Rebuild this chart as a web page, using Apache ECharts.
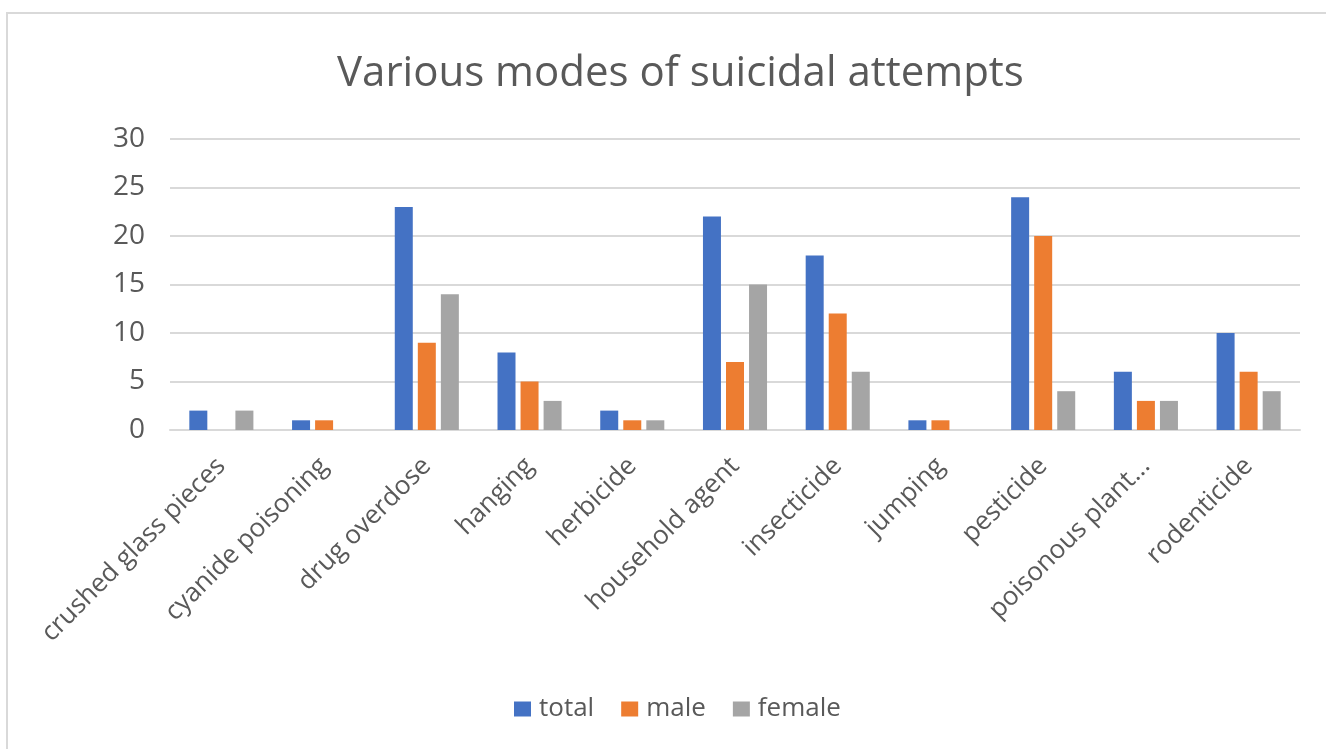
<!DOCTYPE html>
<html>
<head>
<meta charset="utf-8">
<script src="https://cdn.jsdelivr.net/npm/echarts@6/dist/echarts.min.js"></script>
<style>
  html, body { margin: 0; padding: 0; background: #fff; overflow: hidden; }
  #frame {
    position: absolute; left: 6px; top: 12px; width: 1340px; height: 760px;
    border: 2px solid #d9d9d9; box-sizing: border-box;
  }
  #chart { position: absolute; left: 0; top: 0; width: 1326px; height: 749px; }
</style>
</head>
<body>
<div id="frame"></div>
<div id="chart"></div>
<script>
// chart data
const categories = ['crushed glass pieces', 'cyanide poisoning', 'drug overdose', 'hanging', 'herbicide',
    'household agent', 'insecticide', 'jumping', 'pesticide', 'poisonous plant...', 'rodenticide'];
const totalValues = [2, 1, 23, 8, 2, 22, 18, 1, 24, 6, 10];
const maleValues = [0, 1, 9, 5, 1, 7, 12, 1, 20, 3, 6];
const femaleValues = [2, 0, 14, 3, 1, 15, 6, 0, 4, 3, 4];
const yTicks = [0, 5, 10, 15, 20, 25, 30];

const fontFamily = '"Open Sans", "Noto Sans", sans-serif';
const textColor = '#595959';

let chart = echarts.init(document.getElementById('chart'));

function barSeries(name, data, color) {
    return {
        name: name,
        type: 'bar',
        data: data,
        barWidth: 18,
        barGap: '28%',
        itemStyle: {color: color},
        emphasis: {disabled: true}
    };
}

chart.setOption({
    animation: false,
    title: {
        text: 'Various modes of suicidal attempts',
        left: 332,
        top: 48,
        textStyle: {fontFamily: fontFamily, fontSize: 42, fontWeight: 'normal', color: textColor}
    },
    legend: {
        top: 691,
        left: 509,
        itemWidth: 17,
        itemHeight: 15,
        itemGap: 27,
        icon: 'rect',
        textStyle: {fontFamily: fontFamily, fontSize: 26, color: textColor, padding: [0, 0, 0, 3]},
        data: ['total', 'male', 'female']
    },
    grid: {left: 170, right: 26, top: 139, bottom: 319, containLabel: false},
    xAxis: {
        type: 'category',
        data: categories,
        axisLine: {lineStyle: {color: '#d9d9d9', width: 2}},
        axisTick: {show: false},
        axisLabel: {
            rotate: 45,
            interval: 0,
            margin: 32,
            fontFamily: fontFamily,
            fontSize: 26,
            color: textColor
        }
    },
    yAxis: {
        type: 'value',
        min: yTicks[0],
        max: yTicks[yTicks.length - 1],
        interval: 5,
        axisLine: {show: false},
        axisTick: {show: false},
        splitLine: {lineStyle: {color: '#d9d9d9', width: 2}},
        axisLabel: {margin: 25, fontFamily: fontFamily, fontSize: 28, color: textColor}
    },
    series: [
        barSeries('total', totalValues, '#4472c4'),
        barSeries('male', maleValues, '#ed7d31'),
        barSeries('female', femaleValues, '#a5a5a5')
    ]
});

window.addEventListener('resize', function () {
    chart.resize();
});
</script>
</body>
</html>
